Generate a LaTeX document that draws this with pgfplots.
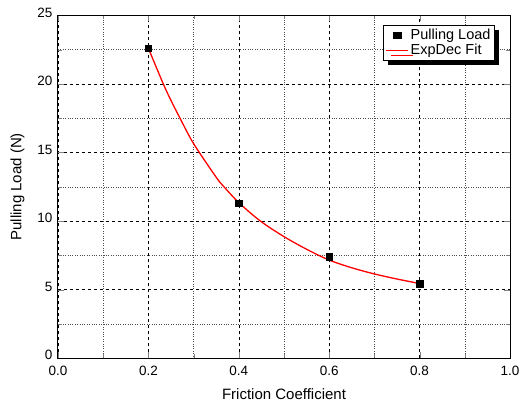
\documentclass[border=0pt]{standalone}
\usepackage{fontspec}
\setmainfont{Liberation Sans}
\usepackage{pgfplots}
\pgfplotsset{compat=1.18}
\usetikzlibrary{shadows}

\begin{document}
\begin{tikzpicture}
\useasboundingbox (-58pt,-49.7pt) rectangle (461pt,358.3pt);
\begin{axis}[
    scale only axis,
    width=452pt, height=342.9pt,
    xmin=0, xmax=1, ymin=0, ymax=25,
    xtick={0,0.2,...,1.0},
    ytick={0,5,...,25},
    minor x tick num=1,
    minor y tick num=1,
    tick align=inside,
    major tick length=6pt,
    minor tick length=4pt,
    xticklabel style={/pgf/number format/fixed, /pgf/number format/fixed zerofill,
        /pgf/number format/precision=1, yshift=-4pt},
    yticklabel style={xshift=-2pt, yshift=3pt},
    /pgf/number format/assume math mode=true,
    tick label style={font=\fontsize{13.5}{15}\selectfont},
    label style={font=\fontsize{15}{17}\selectfont},
    xlabel={Friction Coefficient},
    ylabel={Pulling Load (N)},
    xlabel style={yshift=-6pt},
    ylabel style={yshift=6pt},
    axis line style={line width=1pt},
    grid=both,
    major grid style={black, dashed, line width=0.6pt},
    minor grid style={black!70, dotted, line width=0.6pt},
    legend style={at={(0.719,0.972)}, anchor=north west, draw=black, fill=white,
        font=\fontsize{14.5}{15}\selectfont, inner sep=2pt, row sep=-1pt,
        drop shadow={shadow xshift=5pt, shadow yshift=-5pt, fill=black, opacity=1}},
    legend image post style={xscale=1.3},
    legend cell align=left,
]
\addplot[only marks, mark=square*, mark size=3.2pt, black]
    coordinates {(0.2,22.6)(0.4,11.3)(0.6,7.4)(0.8,5.45)};
\addlegendentry{Pulling Load}
\addplot[red, line width=1.3pt, smooth]
    coordinates {(0.2,22.6)(0.233,20.0)(0.25,18.8)(0.27,17.5)(0.3,15.65)
                 (0.35,13.2)(0.366,12.55)(0.4,11.35)(0.448,10.0)(0.5,8.87)(0.55,7.95)
                 (0.6,7.16)(0.65,6.6)(0.7,6.15)(0.75,5.78)(0.8,5.45)};
\addlegendentry{ExpDec Fit}
\end{axis}
\end{tikzpicture}
\end{document}
